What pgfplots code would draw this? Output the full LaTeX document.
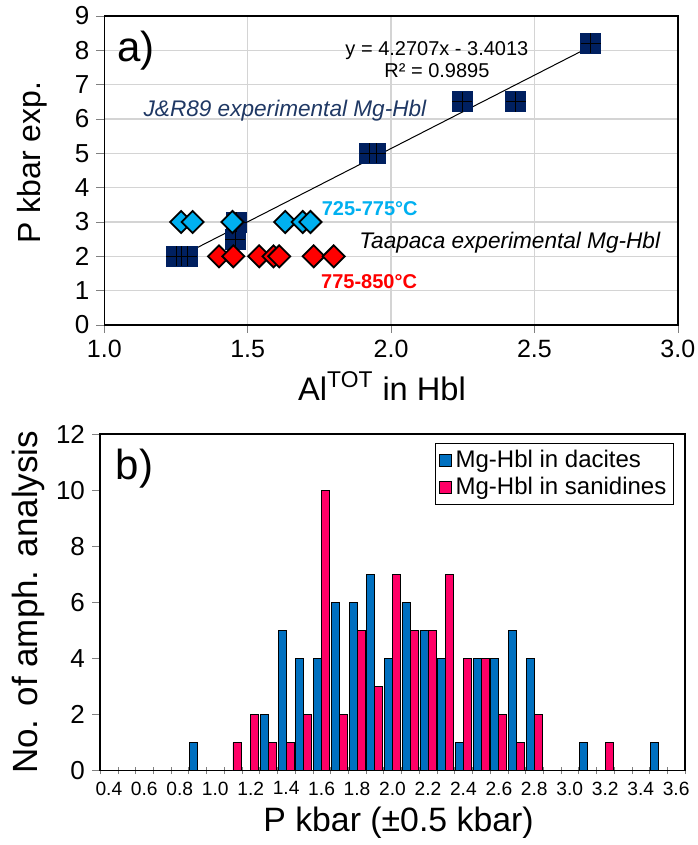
\documentclass[border=0pt]{standalone}
\usepackage{fontspec}
\setmainfont{Liberation Sans}
\usepackage{pgfplots}
\pgfplotsset{compat=1.18}

\definecolor{navy}{RGB}{0,32,96}
\definecolor{cyanb}{RGB}{0,176,240}
\definecolor{jrblue}{RGB}{31,56,100}
\definecolor{dacite}{RGB}{0,112,192}
\definecolor{sanid}{RGB}{255,0,102}

\begin{document}
\begin{tikzpicture}[x=1pt,y=1pt]
\path[use as bounding box] (0,0) rectangle (348.5,422.5);

% a) pressure vs Al total
\begin{axis}[
  at={(52.15pt,260pt)}, anchor=south west,
  scale only axis, width=286.75pt, height=154.5pt,
  xmin=1, xmax=3, ymin=0, ymax=9,
  xtick={1,1.5,2,2.5,3}, ytick={0,1,2,3,4,5,6,7,8,9},
  grid=major, grid style={draw=black!17, line width=0.6pt},
  tick align=outside, tick pos=left, major tick length=4pt,
  axis line style={line width=0.7pt},
  /pgf/number format/assume math mode=true,
  xticklabel style={font=\fontsize{12.5}{14}\selectfont,
    /pgf/number format/fixed, /pgf/number format/fixed zerofill,
    /pgf/number format/precision=1},
  yticklabel style={font=\fontsize{13}{15}\selectfont},
  xlabel={Al\textsuperscript{TOT} in Hbl},
  ylabel={P kbar exp.},
  xlabel style={font=\fontsize{16.3}{18}\selectfont, at={(axis description cs:0.5,-0.243)}, anchor=base, xshift=-4.5pt},
  ylabel style={font=\fontsize{16}{18}\selectfont, at={(axis description cs:-0.126,0.526)}, anchor=center},
  clip=false,
]
\addplot[only marks, mark=square*, mark size=5pt, mark options={fill=navy, draw=navy}]
  coordinates {
    (1.25,2) (1.27,2) (1.29,2)
    (1.456,2.5) (1.462,3)
    (1.925,5) (1.947,5)
    (2.249,6.5) (2.435,6.5)
    (2.696,8.2)
  };
\addplot[only marks, mark=+, mark size=5pt, mark options={black, line width=0.35pt}]
  coordinates {
    (1.25,2) (1.27,2) (1.29,2)
    (1.456,2.5) (1.462,3)
    (1.925,5) (1.947,5)
    (2.249,6.5) (2.435,6.5)
    (2.696,8.2)
  };
\addplot[black, line width=0.5pt, no marks]
  coordinates {(1.257,1.967) (2.70,8.130)};
\addplot[only marks, mark=square*, mark size=3.9pt,
  mark options={rotate=45, fill=cyanb, draw=black, line width=0.9pt}]
  coordinates {
    (1.268,3) (1.308,3) (1.447,3) (1.631,3) (1.692,3) (1.719,3)
  };
\addplot[only marks, mark=square*, mark size=3.9pt,
  mark options={rotate=45, fill=red, draw=black, line width=0.9pt}]
  coordinates {
    (1.40,2) (1.45,2) (1.54,2) (1.59,2) (1.61,2) (1.73,2) (1.80,2)
  };
\node[font=\fontsize{21}{24}\selectfont] at (axis cs:1.11,8.0) {a)};
\node[font=\fontsize{10}{11}\selectfont, align=center] at (axis cs:2.16,7.73)
  {y = 4.2707x - 3.4013\\R² = 0.9895};
\node[font=\fontsize{11.3}{13}\selectfont\itshape, text=jrblue] at (axis cs:1.63,6.24)
  {J\&R89 experimental Mg-Hbl};
\node[font=\fontsize{10}{12}\selectfont\bfseries, text=cyanb, anchor=west, inner sep=0pt] at (axis cs:1.757,3.38)
  {725-775°C};
\node[font=\fontsize{11.3}{13}\selectfont\itshape] at (axis cs:2.414,2.39)
  {Taapaca experimental Mg-Hbl};
\node[font=\fontsize{10}{12}\selectfont\bfseries, text=red, anchor=west, inner sep=0pt] at (axis cs:1.755,1.27)
  {775-850°C};
\end{axis}

% b) histogram
\begin{axis}[
  at={(50pt,37.15pt)}, anchor=south west,
  scale only axis, width=292.5pt, height=168.35pt,
  xmin=0.35, xmax=3.65, ymin=0, ymax=12,
  ytick={0,2,4,6,8,10,12},
  xtick={0.4,0.6,0.8,1.0,1.2,1.4,1.6,1.8,2.0,2.2,2.4,2.6,2.8,3.0,3.2,3.4,3.6},
  minor xtick={0.35,0.45,0.55,0.65,0.75,0.85,0.95,1.05,1.15,1.25,1.35,1.45,1.55,1.65,1.75,1.85,1.95,2.05,2.15,2.25,2.35,2.45,2.55,2.65,2.75,2.85,2.95,3.05,3.15,3.25,3.35,3.45,3.55,3.65},
  major x tick style={draw=none},
  xtick align=center, ytick align=outside,
  minor tick length=3.5pt, major tick length=4pt,
  tick pos=left,
  axis line style={line width=0.7pt},
  /pgf/number format/assume math mode=true,
  xticklabel style={font=\fontsize{9.6}{11}\selectfont,
    /pgf/number format/fixed, /pgf/number format/fixed zerofill,
    /pgf/number format/precision=1},
  yticklabel style={font=\fontsize{13}{15}\selectfont},
  xlabel={P kbar (±0.5 kbar)},
  ylabel={No. of amph. analysis},
  xlabel style={font=\fontsize{16.9}{18}\selectfont, at={(axis description cs:0.5,-0.182)}, anchor=base, xshift=3pt},
  ylabel style={font=\fontsize{17.5}{19}\selectfont, at={(axis description cs:-0.122,0.5)}, anchor=center},
  legend style={at={(0.981,0.973)}, anchor=north east, draw=black, line width=0.5pt,
    font=\fontsize{12}{13}\selectfont, inner sep=1.5pt, row sep=-1pt},
  legend image code/.code={\draw[#1, line width=0.4pt] (0pt,-3pt) rectangle (6pt,3pt);},
  legend cell align=left,
  clip=false,
]
\addplot[ybar, bar width=0.045, bar shift=-0.0225, fill=dacite, draw=black, line width=0.4pt]
  coordinates {
    (0.9,1) (1.3,2) (1.4,5) (1.5,4) (1.6,4) (1.7,6) (1.8,6) (1.9,7)
    (2.0,4) (2.1,6) (2.2,5) (2.3,4) (2.4,1) (2.5,4) (2.6,4) (2.7,5)
    (2.8,4) (3.1,1) (3.5,1)
  };
\addlegendentry{Mg-Hbl in dacites}
\addplot[ybar, bar width=0.045, bar shift=0.0225, fill=sanid, draw=black, line width=0.4pt]
  coordinates {
    (1.1,1) (1.2,2) (1.3,1) (1.4,1) (1.5,2) (1.6,10) (1.7,2) (1.8,5)
    (1.9,3) (2.0,7) (2.1,5) (2.2,5) (2.3,7) (2.4,4) (2.5,4) (2.6,2)
    (2.7,1) (2.8,2) (3.2,1)
  };
\addlegendentry{Mg-Hbl in sanidines}
\node[font=\fontsize{21}{24}\selectfont] at (rel axis cs:0.059,0.896) {b)};
\end{axis}
\end{tikzpicture}
\end{document}
